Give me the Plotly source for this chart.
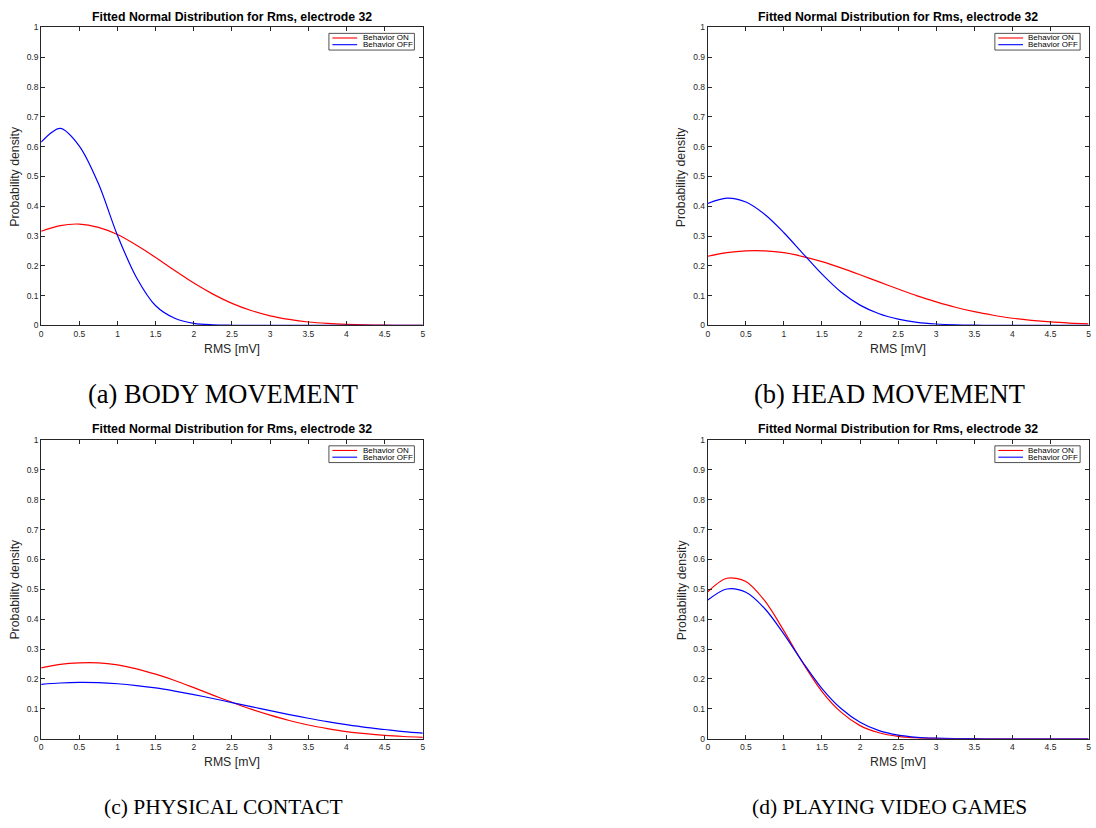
import plotly.graph_objects as go

# ---------------- data ----------------
rms_mv = [0, 0.25, 0.5, 0.75, 1.0, 1.25, 1.5, 1.75, 2.0, 2.25, 2.5,
          2.75, 3.0, 3.25, 3.5, 3.75, 4.0, 4.25, 4.5, 4.75, 5.0]

body_on = [0.316, 0.335, 0.340, 0.329, 0.305, 0.269, 0.228, 0.184, 0.142, 0.105, 0.074,
           0.050, 0.032, 0.020, 0.0115, 0.0065, 0.0035, 0.0018, 0.0009, 0.0004, 0.0002]
body_off = [0.615, 0.661, 0.602, 0.476, 0.302, 0.160, 0.066, 0.024, 0.007, 0.002, 0.0005,
            0.0001, 0, 0, 0, 0, 0, 0, 0, 0, 0]

head_on = [0.232, 0.244, 0.250, 0.250, 0.244, 0.231, 0.214, 0.193, 0.170, 0.146, 0.122,
           0.099, 0.079, 0.061, 0.046, 0.034, 0.024, 0.017, 0.0116, 0.0077, 0.0050]
head_off = [0.409, 0.427, 0.414, 0.372, 0.311, 0.241, 0.172, 0.112, 0.068, 0.039, 0.021,
            0.010, 0.0048, 0.0021, 0.0009, 0.0003, 0.0001, 0, 0, 0, 0]

contact_on = [0.237, 0.249, 0.254, 0.254, 0.247, 0.234, 0.216, 0.195, 0.171, 0.146, 0.122,
              0.099, 0.079, 0.061, 0.046, 0.034, 0.024, 0.017, 0.0114, 0.0076, 0.0049]
contact_off = [0.182, 0.1865, 0.1885, 0.1876, 0.184, 0.178, 0.170, 0.1595, 0.1476, 0.1347, 0.121,
               0.1075, 0.094, 0.081, 0.0685, 0.057, 0.047, 0.038, 0.031, 0.024, 0.019]

games_on = [0.492, 0.537, 0.526, 0.461, 0.361, 0.253, 0.158, 0.089, 0.044, 0.020, 0.008,
            0.0028, 0.0009, 0.0003, 0.0001, 0, 0, 0, 0, 0, 0]
games_off = [0.464, 0.501, 0.490, 0.435, 0.350, 0.255, 0.168, 0.101, 0.055, 0.027, 0.012,
             0.0048, 0.0018, 0.0006, 0.0002, 0, 0, 0, 0, 0, 0]

series_names = ["Behavior ON", "Behavior OFF"]
series_colors = ["#ff0000", "#0000ff"]

captions = ["(a) BODY MOVEMENT", "(b) HEAD MOVEMENT",
            "(c) PHYSICAL CONTACT", "(d) PLAYING VIDEO GAMES"]
caption_sizes = [26.5, 26.5, 21.5, 21.5]
panel_title = "Fitted Normal Distribution for Rms, electrode 32"
x_label = "RMS [mV]"
y_label = "Probability density"

x_tick_vals = [0, 0.5, 1, 1.5, 2, 2.5, 3, 3.5, 4, 4.5, 5]
x_tick_text = ["0", "0.5", "1", "1.5", "2", "2.5", "3", "3.5", "4", "4.5", "5"]
y_tick_vals = [0, 0.1, 0.2, 0.3, 0.4, 0.5, 0.6, 0.7, 0.8, 0.9, 1]
y_tick_text = ["0", "0.1", "0.2", "0.3", "0.4", "0.5", "0.6", "0.7", "0.8", "0.9", "1"]

panels = [(body_on, body_off), (head_on, head_off),
          (contact_on, contact_off), (games_on, games_off)]

# ---------------- layout geometry ----------------
W, H = 1096, 828
x_domains = [[0.0359, 0.3857], [0.6469, 0.9959]]
y_domains = [[0.6083, 0.9726], [0.1030, 0.4684]]

FONT = "Liberation Sans, Arial, sans-serif"
AX = "#262626"

fig = go.Figure()
annotations = []
shapes = []

for i, (on, off) in enumerate(panels):
    col = i % 2
    row = i // 2
    sfx = "" if i == 0 else str(i + 1)
    xa, ya = "x" + sfx, "y" + sfx
    for vals, name, color in zip((on, off), series_names, series_colors):
        fig.add_trace(go.Scatter(
            x=rms_mv, y=vals, mode="lines", name=name,
            line=dict(color=color, width=1.2, shape="spline", smoothing=0.9),
            showlegend=False, xaxis=xa, yaxis=ya))

    common = dict(showline=True, linecolor=AX, linewidth=1, mirror="ticks",
                  ticks="inside", ticklen=4, tickcolor=AX, tickwidth=1,
                  showgrid=False, zeroline=False,
                  tickfont=dict(family=FONT, size=8.5, color=AX))
    fig.layout["xaxis" + sfx] = dict(domain=x_domains[col], anchor=ya, range=[0, 5],
                                     tickvals=x_tick_vals, ticktext=x_tick_text, **common)
    fig.layout["yaxis" + sfx] = dict(domain=y_domains[row], anchor=xa, range=[0, 1],
                                     tickvals=y_tick_vals, ticktext=y_tick_text, **common)

    x0, x1 = x_domains[col]
    y0, y1 = y_domains[row]
    xc = (x0 + x1) / 2
    # panel title
    annotations.append(dict(text="<b>" + panel_title + "</b>", x=xc, y=y1 + 11 / H,
                            xref="paper", yref="paper", showarrow=False,
                            xanchor="center", yanchor="middle",
                            font=dict(family=FONT, size=12.3, color="#000000")))
    # x label
    annotations.append(dict(text=x_label, x=xc, y=y0 - 24 / H, xref="paper", yref="paper",
                            showarrow=False, xanchor="center", yanchor="middle",
                            font=dict(family=FONT, size=12.3, color=AX)))
    # y label
    annotations.append(dict(text=y_label, x=x0 - 26 / W, y=(y0 + y1) / 2,
                            xref="paper", yref="paper", showarrow=False, textangle=-90,
                            xanchor="center", yanchor="middle",
                            font=dict(family=FONT, size=12.3, color=AX)))
    # caption
    annotations.append(dict(text=captions[i], x=xc - 9 / W, y=y0 - 69 / H,
                            xref="paper", yref="paper", showarrow=False,
                            xanchor="center", yanchor="middle",
                            font=dict(family="Liberation Serif, serif",
                                      size=caption_sizes[i], color="#000000")))

    # legend box (drawn in axis-domain coordinates)
    xd, yd = xa + " domain", ya + " domain"
    shapes.append(dict(type="rect", xref=xd, yref=yd, x0=0.754, x1=0.978, y0=0.924, y1=0.980,
                       line=dict(color=AX, width=0.8), fillcolor="white", layer="above"))
    for k, (name, color) in enumerate(zip(series_names, series_colors)):
        yy = 0.9645 - k * 0.0225
        shapes.append(dict(type="line", xref=xd, yref=yd, x0=0.763, x1=0.828, y0=yy, y1=yy,
                           line=dict(color=color, width=1.1), layer="above"))
        annotations.append(dict(text=name, xref=xd, yref=yd, x=0.837, y=yy,
                                showarrow=False, xanchor="left", yanchor="middle",
                                font=dict(family=FONT, size=8, color="#000000")))

fig.update_layout(width=W, height=H, margin=dict(l=0, r=0, t=0, b=0),
                  paper_bgcolor="white", plot_bgcolor="white",
                  annotations=annotations, shapes=shapes, showlegend=False)

fig.write_html("out.html",
               config={"displayModeBar": False},
               post_script="document.body.style.margin='0px';"
                           "document.body.style.overflow='hidden';")
